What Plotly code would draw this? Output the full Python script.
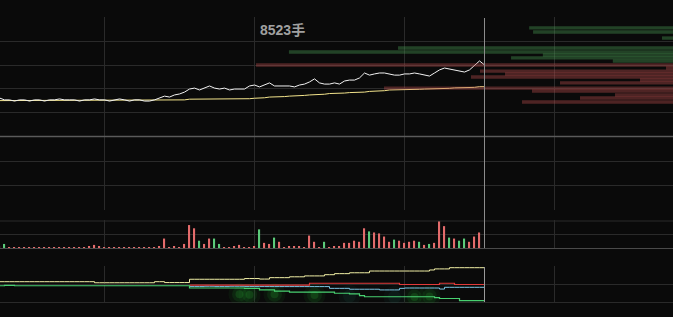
import plotly.graph_objects as go

W, H = 673, 317

# ---------------- data ----------------
# minute index of each point (0 .. 97)
minutes = list(range(98))

price = [10.161, 10.153, 10.153, 10.148, 10.153, 10.153, 10.148, 10.153, 10.153, 10.148,
         10.153, 10.153, 10.157, 10.153, 10.153, 10.153, 10.148, 10.153, 10.153, 10.157,
         10.153, 10.153, 10.148, 10.153, 10.157, 10.153, 10.148, 10.153, 10.153, 10.148,
         10.148, 10.153, 10.161, 10.169, 10.165, 10.174, 10.178, 10.186, 10.199, 10.203,
         10.195, 10.203, 10.212, 10.203, 10.199, 10.203, 10.195, 10.199, 10.199, 10.199,
         10.212, 10.216, 10.208, 10.216, 10.225, 10.212, 10.212, 10.212, 10.212, 10.208,
         10.216, 10.220, 10.229, 10.242, 10.225, 10.220, 10.220, 10.225, 10.220, 10.233,
         10.237, 10.237, 10.246, 10.267, 10.258, 10.263, 10.267, 10.267, 10.263, 10.258,
         10.258, 10.263, 10.263, 10.267, 10.263, 10.258, 10.254, 10.267, 10.280, 10.288,
         10.284, 10.280, 10.275, 10.271, 10.280, 10.297, 10.318, 10.301]

avg_price = [10.150] * 31 + [10.151] * 6 + [10.153] + [10.156] * 3 + [10.157] * 5 + \
            [10.158] * 5 + [10.160] * 2 + [10.162] + [10.165] * 2 + [10.167] * 2 + \
            [10.169] * 2 + [10.172] * 2 + [10.174] * 2 + [10.177] * 2 + [10.180] * 2 + \
            [10.182] * 2 + [10.184] * 2 + [10.186] * 2 + [10.189] * 2 + [10.192] * 2 + \
            [10.195] * 2 + [10.196] * 2 + [10.198] * 3 + [10.199] * 3 + [10.202] * 3 + \
            [10.204] * 3 + [10.206] * 2 + [10.209] * 2

# per-minute volume (hands) and direction (r = up, g = down), minutes 0..96
volume = [150, 300] + [70] * 16 + [150, 230, 150] + [70] * 11 + \
         [150, 700, 70, 150, 70, 300, 1700, 1460, 540, 300, 700, 700, 300, 70, 70, 150, 230,
          70, 70, 150, 1380, 380, 300, 770, 460, 70, 150, 150, 150, 70, 920, 460, 70, 460, 70,
          150, 150, 380, 380, 540, 460, 1460, 1230, 1150, 1080, 850, 460, 620, 540, 380, 460,
          540, 460, 230, 300, 380, 2000, 1620, 770, 700, 540, 700, 460, 850, 1150]
vol_dir = ['r', 'g'] + ['r'] * 16 + ['r', 'r', 'r'] + ['r'] * 11 + \
          ['r', 'r', 'r', 'r', 'r', 'r', 'r', 'r', 'g', 'r', 'r', 'g', 'g', 'r', 'r', 'r', 'r',
           'r', 'r', 'r', 'g', 'r', 'r', 'g', 'r', 'r', 'r', 'r', 'r', 'r', 'r', 'r', 'r', 'g', 'r',
           'r', 'r', 'r', 'r', 'r', 'r', 'r', 'g', 'r', 'r', 'r', 'r', 'g', 'r', 'r', 'r',
           'r', 'g', 'r', 'g', 'r', 'r', 'r', 'g', 'r', 'g', 'g', 'r', 'r', 'r']

# order book (price level, hands)
ask_price = [10.458, 10.441, 10.415, 10.373, 10.356, 10.343, 10.331, 10.318]
ask_vol = [2940, 2860, 225, 5620, 7850, 2660, 3310, 1230]
bid_price = [10.301, 10.288, 10.275, 10.263, 10.250, 10.237, 10.225, 10.203, 10.191,
             10.174, 10.161, 10.144]
bid_vol = [8523, 143, 3945, 3434, 4129, 675, 2310, 5907, 2882, 1186, 1901, 3086]
max_book_label = "8523手"

# indicator lines (minutes 0..97)
ind_yellow = [16] * 19 + [10] * 12 + [16] * 2 + [11] * 5 + [30] * 11 + [34] * 3 + [31] * 2 + \
             [39] * 4 + [44] * 3 + [49] * 4 + [56] * 2 + [62] * 3 + [67] * 4 + [77] * 12 + \
             [83] + [89] * 3 + [96] * 8
ind_green = [-7, -5, -5] + [-7] * 35 + [-20] * 11 + [-22] * 3 + [-31] * 3 + [-38] * 3 + \
            [-43] * 9 + [-50] * 3 + [-54] * 2 + [-64] + [-70] * 14 + [-75] + [-80] * 4 + [-92] * 6
ind_red = [None] * 38 + [-3] * 24 + [7] * 18 + [0] * 8 + [7] * 3 + [0] * 7
ind_cyan = [None] * 38 + [-12, -12, -12, -10, -10, -12, -12, -12, -10, -10, -10] + [-12] * 17 + \
           [-22] * 4 + [-27] * 6 + [-31] * 4 + [-22] + [-20] * 7 + [-26] + [-16] * 9
glow_min = [48, 50, 55, 63, 83, 86]
glow_val = [-56, -58, -56, -60, -72, -68]
glow_dim_min = [70, 79]
glow_dim_val = [-66, -72]

grid_minutes = [21, 51, 81, 111]
cursor_minute = 97

# ---------------- helpers ----------------
def dom(top_px, bot_px):
    return [1 - bot_px / H, 1 - top_px / H]

BG = '#0a0a0a'
GRID = '#2a2a2a'

fig = go.Figure()

# main price panel
fig.add_trace(go.Scatter(x=minutes, y=avg_price, mode='lines',
                         line=dict(color='#f3e48c', width=1), xaxis='x', yaxis='y'))
fig.add_trace(go.Scatter(x=minutes, y=price, mode='lines',
                         line=dict(color='#f2f2f2', width=1), xaxis='x', yaxis='y'))
# order book (overlay axis, reversed from the right edge)
fig.add_trace(go.Bar(x=ask_vol, y=ask_price, orientation='h', width=0.0145,
                     marker=dict(color='rgba(70,150,80,0.40)', line=dict(width=0)),
                     xaxis='x5', yaxis='y'))
fig.add_trace(go.Bar(x=bid_vol, y=bid_price, orientation='h', width=0.0145,
                     marker=dict(color='rgba(180,75,75,0.40)', line=dict(width=0)),
                     xaxis='x5', yaxis='y'))

# empty panel (keeps grid)
fig.add_trace(go.Scatter(x=[None], y=[None], xaxis='x2', yaxis='y2', mode='lines'))

# volume
vcolors = ['#e36b6b' if d == 'r' else '#5ccb7a' for d in vol_dir]
fig.add_trace(go.Bar(x=minutes[:len(volume)], y=volume, width=0.24,
                     marker=dict(color=vcolors, line=dict(width=0)),
                     xaxis='x3', yaxis='y3'))

# indicator: soft glow blobs
for size, col in [(22, 'rgba(25,130,35,0.10)'), (15, 'rgba(30,150,40,0.14)'),
                  (8, 'rgba(40,175,50,0.20)')]:
    fig.add_trace(go.Scatter(x=glow_min, y=glow_val, mode='markers',
                             marker=dict(size=size, color=col, line=dict(width=0)),
                             xaxis='x4', yaxis='y4'))
for size, col in [(22, 'rgba(30,90,80,0.10)'), (13, 'rgba(30,90,80,0.14)')]:
    fig.add_trace(go.Scatter(x=glow_dim_min, y=glow_dim_val, mode='markers',
                             marker=dict(size=size, color=col, line=dict(width=0)),
                             xaxis='x4', yaxis='y4'))
fig.add_trace(go.Scatter(x=minutes, y=ind_yellow, mode='lines', line_shape='hv',
                         line=dict(color='#f2f0a6', width=1), xaxis='x4', yaxis='y4'))
fig.add_trace(go.Scatter(x=minutes, y=ind_cyan, mode='lines', line_shape='hv',
                         line=dict(color='#7cc6e4', width=1), xaxis='x4', yaxis='y4'))
fig.add_trace(go.Scatter(x=minutes, y=ind_red, mode='lines', line_shape='hv',
                         line=dict(color='#e03a3a', width=1.2), xaxis='x4', yaxis='y4'))
fig.add_trace(go.Scatter(x=minutes, y=ind_green, mode='lines', line_shape='hv',
                         line=dict(color='#48d070', width=1.2), xaxis='x4', yaxis='y4'))

xcommon = dict(range=[0.1, 134.7], tickvals=grid_minutes, showticklabels=False,
               showgrid=True, gridcolor=GRID, gridwidth=1, zeroline=False,
               showline=False, ticks='', fixedrange=True)
ycommon = dict(showticklabels=False, showgrid=True, gridcolor=GRID, gridwidth=1,
               zeroline=False, showline=False, ticks='', fixedrange=True)

fig.update_layout(
    width=W, height=H, margin=dict(l=0, r=0, t=0, b=0, pad=0),
    paper_bgcolor=BG, plot_bgcolor=BG, showlegend=False, barmode='overlay',
    xaxis=dict(xcommon, domain=[0, 1], anchor='y'),
    xaxis2=dict(xcommon, domain=[0, 1], anchor='y2', matches='x'),
    xaxis3=dict(xcommon, domain=[0, 1], anchor='y3', matches='x'),
    xaxis4=dict(xcommon, domain=[0, 1], anchor='y4', matches='x'),
    xaxis5=dict(overlaying='x', anchor='y', range=[13755, 0], visible=False,
                showgrid=False, zeroline=False, fixedrange=True),
    yaxis=dict(ycommon, domain=dom(17, 137), range=[10.0 - 1 / 236, 10.5 + 1 / 236],
               tickvals=[10.1, 10.2, 10.3, 10.4, 10.5], anchor='x'),
    yaxis2=dict(ycommon, domain=dom(137, 210), range=[-1 / 24, 3.0],
                tickvals=[0, 1, 2], anchor='x2'),
    yaxis3=dict(ycommon, domain=dom(220, 249), range=[-74, 2074],
                tickvals=[1000, 2000], zeroline=True, zerolinecolor='#4a4a4a',
                zerolinewidth=1, anchor='x3'),
    yaxis4=dict(ycommon, domain=dom(266, 303), range=[-105.7, 105.7],
                tickvals=[-100, 0, 100], anchor='x4'),
    shapes=[
        dict(type='line', xref='paper', yref='paper', x0=0, x1=1,
             y0=1 - 136.5 / H, y1=1 - 136.5 / H, line=dict(color='#5a5a5a', width=1.5)),
        dict(type='line', xref='paper', yref='paper', x0=0, x1=1,
             y0=1 - 221 / H, y1=1 - 221 / H, line=dict(color=GRID, width=1)),
        dict(type='line', xref='x', yref='paper', x0=cursor_minute, x1=cursor_minute,
             y0=1 - 248 / H, y1=1 - 18 / H, line=dict(color='#8c8c8c', width=1)),
        dict(type='line', xref='x', yref='paper', x0=cursor_minute, x1=cursor_minute,
             y0=1 - 302 / H, y1=1 - 267 / H, line=dict(color='#9a9a9a', width=1)),
    ],
    annotations=[
        dict(text="<b>" + max_book_label + "</b>", xref='paper', yref='paper',
             x=258 / W, y=1 - 30 / H,
             xanchor='left', yanchor='middle', showarrow=False,
             font=dict(family='Liberation Sans, Noto Sans CJK SC', size=14, color='#a0a0a0'))
    ],
)

fig.write_html("out.html")
